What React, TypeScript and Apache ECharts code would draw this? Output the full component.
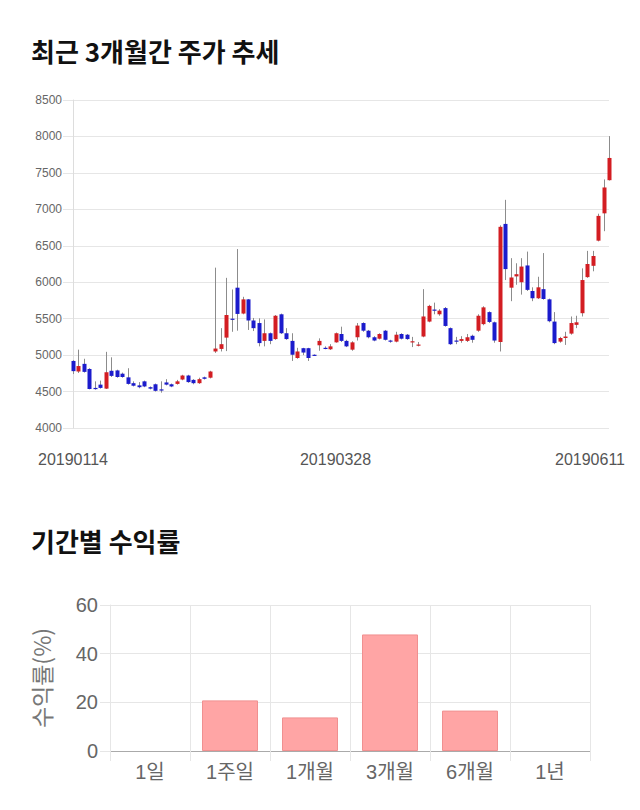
import React, { useEffect, useRef } from "react";
import * as echarts from "echarts";

const DATES = [
  "20190114","20190115","20190116","20190117","20190118","20190121","20190122","20190123","20190124","20190125","20190128","20190129","20190130","20190131",
  "20190207","20190208","20190211","20190212","20190213","20190214","20190215","20190218","20190219","20190220","20190221","20190222","20190225","20190226","20190227","20190228",
  "20190304","20190305","20190306","20190307","20190308","20190311","20190312","20190313","20190314","20190315","20190318","20190319","20190320","20190321","20190322","20190325","20190326","20190327","20190328","20190329",
  "20190401","20190402","20190403","20190404","20190405","20190408","20190409","20190410","20190411","20190412","20190415","20190416","20190417","20190418","20190419","20190422","20190423","20190424","20190425","20190426","20190429","20190430",
  "20190502","20190503","20190507","20190508","20190509","20190510","20190513","20190514","20190515","20190516","20190517","20190520","20190521","20190522","20190523","20190524","20190527","20190528","20190529","20190530","20190531",
  "20190603","20190604","20190605","20190607","20190610","20190611",
];

const OPEN = [
  4920,4775,4880,4810,4550,4595,4540,4785,4790,4745,4695,4615,4585,4640,4560,4600,4530,4625,4600,4605,
  4665,4720,4660,4615,4695,4690,5050,5085,5240,5500,5925,5570,5765,5475,5440,5195,5300,5220,5560,5300,
  5195,4960,5095,5095,5005,5135,5100,5080,5175,5290,5195,5075,5245,5440,5335,5245,5225,5335,5200,5185,
  5290,5280,5180,5135,5255,5460,5625,5560,5645,5370,5200,5195,5195,5265,5335,5425,5590,5450,5180,6800,
  5925,6080,6000,6230,5880,5780,5905,5765,5460,5185,5235,5295,5415,5575,6070,6225,6570,6945,7400,
];
const CLOSE = [
  4780,4850,4770,4535,4540,4550,4765,4715,4700,4700,4605,4580,4560,4570,4540,4510,4525,4595,4570,4640,
  4720,4630,4615,4670,4675,4775,5090,5150,5550,5490,5565,5765,5475,5370,5165,5300,5195,5540,5300,5220,
  5005,5050,5035,4960,5000,5195,5095,5120,5300,5195,5120,5175,5405,5335,5245,5200,5290,5210,5195,5280,
  5225,5220,5190,5145,5530,5675,5620,5610,5400,5150,5195,5220,5245,5210,5540,5655,5455,5200,6760,6180,
  6065,6110,6215,5895,5780,5930,5770,5465,5165,5235,5255,5440,5450,6030,6250,6360,6910,7300,7705,
];
const LOW = [
  4740,4755,4760,4530,4525,4540,4535,4700,4690,4690,4595,4570,4545,4560,4530,4500,4485,4585,4560,4595,
  4655,4620,4600,4605,4665,4680,5030,5050,5055,5320,5335,5560,5345,5330,5120,5120,5150,5210,5290,5210,
  4920,4950,5000,4920,4990,5060,5080,5070,5170,5180,5110,5060,5200,5320,5230,5190,5215,5200,5170,5175,
  5215,5210,5110,5120,5245,5450,5560,5540,5390,5140,5150,5170,5180,5170,5320,5410,5440,5170,5050,6030,
  5740,5965,5830,5880,5740,5770,5760,5450,5150,5170,5140,5280,5370,5530,6060,6150,6560,6700,7395,
];
const HIGH = [
  4930,5075,4950,4820,4640,4650,5045,4970,4800,4760,4820,4640,4630,4650,4570,4610,4640,4670,4610,4660,
  4730,4730,4670,4690,4705,4785,6200,5370,6060,5900,6455,5800,5770,5510,5505,5490,5310,5550,5570,5370,
  5300,5100,5100,5100,5010,5230,5120,5150,5310,5390,5210,5190,5440,5450,5345,5260,5300,5345,5210,5320,
  5300,5290,5250,5180,5905,5690,5720,5630,5660,5380,5250,5260,5290,5280,5560,5670,5600,5460,6780,7130,
  6330,6260,6330,6420,5930,6075,6400,5775,5590,5250,5320,5530,5540,6190,6430,6430,6940,7410,8005,
];
const X_TICKS = ["20190114", "20190328", "20190611"];

const PERIODS = ["1일", "1주일", "1개월", "3개월", "6개월", "1년"];
const RETURNS = [null, 20.8, 13.8, 47.9, 16.6, null];

const LATIN = "'Liberation Sans', Arial, 'Noto Sans CJK KR', sans-serif";
const KR = "'Noto Sans CJK KR', 'Liberation Sans', sans-serif";
const GRID = "#e6e6e6";

export default function App() {
  const ref = useRef<HTMLDivElement>(null);
  useEffect(() => {
    if (!ref.current) return;
    const chart = echarts.init(ref.current, null, { renderer: "svg" });
    const candles = DATES.map((d, i) => [i, OPEN[i], CLOSE[i], LOW[i], HIGH[i]]);
    const lastDate = DATES[DATES.length - 1];
    chart.setOption({
      animation: false,
      backgroundColor: "#ffffff",
      title: [
        {
          text: "최근 3개월간 주가 추세",
          left: 26,
          top: 32,
          textStyle: { fontSize: 26, fontWeight: "bold", color: "#111", fontFamily: KR },
        },
        {
          text: "기간별 수익률",
          left: 26,
          top: 522,
          textStyle: { fontSize: 26, fontWeight: "bold", color: "#111", fontFamily: KR },
        },
      ],
      grid: [
        { left: 73, right: 31, top: 100, height: 328 },
        { left: 110, right: 50, top: 605, height: 146 },
      ],
      xAxis: [
        {
          type: "category",
          gridIndex: 0,
          data: DATES,
          boundaryGap: false,
          axisLine: { show: false },
          axisTick: { show: false },
          splitLine: { show: false },
          axisLabel: {
            interval: (_i: number, v: string) => X_TICKS.includes(v),
            margin: 23,
            fontSize: 16,
            color: "#555",
            fontFamily: LATIN,
            formatter: (v: string) => (v === lastDate ? `{last|${v}}` : v),
            rich: {
              last: { padding: [0, 38, 0, 0], fontSize: 16, color: "#555", fontFamily: LATIN },
            },
          },
        },
        {
          type: "category",
          gridIndex: 1,
          data: PERIODS,
          boundaryGap: true,
          axisLine: { show: true, lineStyle: { color: "#aaaaaa", width: 1 } },
          axisTick: { show: true, length: 10, interval: 0, lineStyle: { color: GRID } },
          splitLine: { show: true, interval: 0, lineStyle: { color: GRID } },
          axisLabel: { interval: 0, margin: 11, fontSize: 20, color: "#666", fontFamily: LATIN },
        },
      ],
      yAxis: [
        {
          type: "value",
          gridIndex: 0,
          min: 4000,
          max: 8500,
          interval: 500,
          axisLine: { show: true, lineStyle: { color: "#dddddd" } },
          axisTick: { show: true, length: 10, lineStyle: { color: GRID } },
          splitLine: { show: true, lineStyle: { color: GRID } },
          axisLabel: {
            margin: 11,
            fontSize: 12,
            color: "#666",
            fontFamily: LATIN,
            formatter: (v: number) => String(v),
          },
        },
        {
          type: "value",
          gridIndex: 1,
          min: 0,
          max: 60,
          interval: 20,
          name: "수익률(%)",
          nameLocation: "middle",
          nameGap: 58,
          nameTextStyle: { fontSize: 23, color: "#777", fontFamily: KR },
          axisLine: { show: true, lineStyle: { color: GRID } },
          axisTick: { show: true, length: 10, lineStyle: { color: GRID } },
          splitLine: { show: true, lineStyle: { color: GRID } },
          axisLabel: { margin: 12, fontSize: 20, color: "#666", fontFamily: LATIN },
        },
      ],
      series: [
        {
          type: "custom",
          name: "주가",
          xAxisIndex: 0,
          yAxisIndex: 0,
          data: candles,
          encode: { x: 0, y: [1, 2, 3, 4] },
          clip: false,
          renderItem: (_params: any, api: any) => {
            const i = api.value(0);
            const o = api.value(1);
            const c = api.value(2);
            const l = api.value(3);
            const h = api.value(4);
            const x = api.coord([i, o])[0];
            const yO = api.coord([i, o])[1];
            const yC = api.coord([i, c])[1];
            const yL = api.coord([i, l])[1];
            const yH = api.coord([i, h])[1];
            const w = Math.max(3, Math.round(api.size([1, 0])[0] * 0.74));
            const color = c > o ? "#d31d22" : c < o ? "#1b1bcc" : "#333";
            const top = Math.min(yO, yC);
            const bh = Math.max(1.2, Math.abs(yO - yC));
            const xc = Math.round(x) + 0.5;
            return {
              type: "group",
              children: [
                {
                  type: "line",
                  shape: { x1: xc, y1: yH, x2: xc, y2: yL },
                  style: { stroke: "#8c8c8c", lineWidth: 1 },
                },
                {
                  type: "rect",
                  shape: { x: xc - w / 2, y: top, width: w, height: bh },
                  style: { fill: color },
                },
              ],
            };
          },
        },
        {
          type: "bar",
          name: "수익률",
          xAxisIndex: 1,
          yAxisIndex: 1,
          data: RETURNS,
          barWidth: 56,
          itemStyle: { color: "#ffa5a5", borderColor: "#f09090", borderWidth: 1 },
        },
      ],
    });
    return () => chart.dispose();
  }, []);
  return (
    <div
      ref={ref}
      style={{ position: "absolute", left: 0, top: 0, width: 640, height: 810, background: "#fff" }}
    />
  );
}
